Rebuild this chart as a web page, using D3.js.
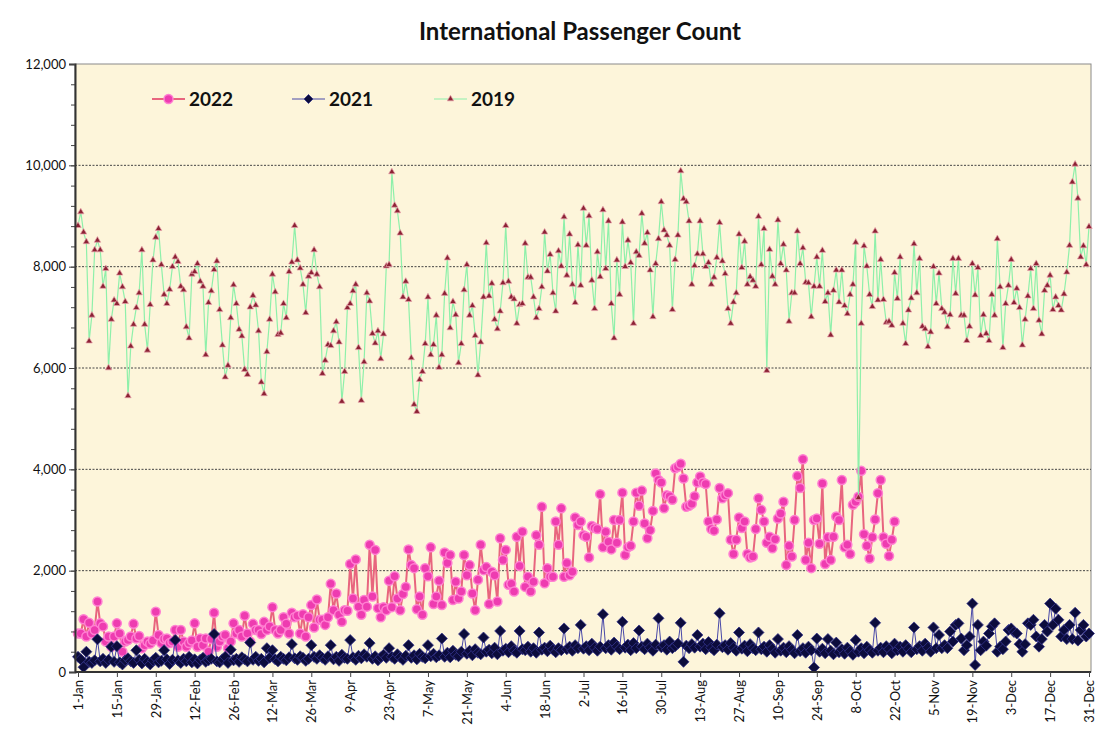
<!DOCTYPE html>
<html>
<head>
<meta charset="utf-8">
<script src="https://cdn.jsdelivr.net/npm/d3@7"></script>
<style>
  body { margin: 0; background: #fff; }
  text { font-family: Lato, "Liberation Sans", sans-serif; }
</style>
</head>
<body>
<div id="chart"></div>
<script>
// day index 0 = 1-Jan, ticks every 14 days
const tickDays = [0,14,28,42,56,70,84,98,112,126,140,154,168,182,196,210,224,238,252,266,280,294,308,322,336,350,364];
const tickLabels = ["1-Jan","15-Jan","29-Jan","12-Feb","26-Feb","12-Mar","26-Mar","9-Apr","23-Apr","7-May","21-May","4-Jun","18-Jun","2-Jul","16-Jul","30-Jul","13-Aug","27-Aug","10-Sep","24-Sep","8-Oct","22-Oct","5-Nov","19-Nov","3-Dec","17-Dec","31-Dec"];
const yTicks = [0,2000,4000,6000,8000,10000,12000];

const v2019 = [
  8810,9080,8680,8490,6530,7040,8330,8520,8330,7610,
  7960,6000,6960,7340,7270,7870,7600,7310,5450,6430,
  6860,7190,7480,8330,6860,6350,7250,8130,8580,8750,
  8040,7450,7270,7550,8000,8190,8100,7610,7540,6810,
  6590,7850,7900,8060,7710,7610,6260,7290,7520,7940,
  8110,7150,6450,5820,6050,6990,7640,7270,6760,6630,
  5970,5870,7200,7430,7240,6730,5720,5490,6320,6960,
  7850,7500,6660,6690,7270,6990,7900,8090,8810,8130,
  7970,7650,7090,7810,7880,8330,7850,7600,5890,6150,
  6460,6440,6730,6910,6510,5340,5930,7190,7270,7520,
  7650,6400,5360,6120,7480,7320,6680,6490,6730,6180,
  6670,8010,8040,9870,9210,9100,8660,7400,7710,7350,
  6200,5280,5140,5770,5930,6480,7400,6260,6460,7040,
  6010,6260,7470,8170,6790,7310,7050,6100,6480,7540,
  8040,7040,7230,6640,5860,6510,7400,8470,7420,7670,
  6960,6770,7120,7680,8810,7710,7400,7360,6880,7250,
  7270,8460,7790,7790,7400,6990,7170,7600,8680,7910,
  8240,7480,7120,8310,8010,8980,7830,8640,7650,7290,
  8430,7630,9150,8420,9000,7730,7170,8290,7800,9120,
  7960,8900,7270,6590,8130,7450,8880,8000,8520,8080,
  6880,8290,8220,9050,8460,8670,7930,7010,8060,8550,
  9280,8720,8620,8420,7150,8140,8620,9890,9340,9280,
  8900,7650,8020,8250,8900,8250,8000,8080,7650,7790,
  8180,8870,8110,7860,7170,6880,7300,7480,8640,7980,
  8500,7650,7800,7730,7610,8990,8040,8750,5950,8340,
  7810,7650,8920,8060,8440,7930,6920,7480,7480,8700,
  8060,8370,7690,7680,7010,7610,8190,7610,8320,7310,
  7480,6650,7530,7930,7300,7930,7230,7070,7450,7650,
  8480,3440,6880,8410,8010,7450,7210,8700,7340,8140,
  7350,6900,6920,6840,7880,7370,8190,6880,6480,7140,
  7380,8450,7480,8160,6820,6770,6420,6710,8000,7270,
  7870,7170,7100,6810,7050,8160,7470,8160,7040,7040,
  6540,6820,8060,7440,7980,6640,7050,6680,6540,7450,
  7040,8550,7600,6400,7270,7630,8140,7290,7570,7190,
  6450,6960,7420,7960,7170,8060,6940,6670,7530,7630,
  7830,7150,7400,7230,7140,7460,7890,8420,9670,10020,
  9350,8190,8410,8040,8790
];

const v2022 = [
  760,760,1040,700,970,760,830,1390,960,900,
  600,700,500,700,960,760,400,600,630,700,
  950,660,710,470,530,600,560,620,1190,730,
  570,650,660,570,600,830,500,830,600,500,
  570,620,960,500,660,530,660,400,650,1170,
  500,600,700,730,470,600,960,760,830,700,
  1110,760,600,950,830,830,750,990,830,900,
  1280,830,760,830,1080,950,760,1170,1080,1110,
  760,1140,700,1080,1320,880,1430,1030,1030,930,
  1080,1740,1220,1550,1130,990,1220,1210,2130,1450,
  2220,1290,1130,1420,1290,2510,1490,2410,1260,1080,
  1280,1220,1800,1280,1890,1450,1220,1540,1680,2420,
  2110,2050,1240,1490,1130,2050,1890,2460,1340,1490,
  1800,1320,2360,2150,2310,1420,1780,1450,1590,2310,
  1910,2110,1550,1220,1820,2510,2010,2070,1340,1980,
  1910,1390,2640,2210,2410,1720,1740,1590,2670,2090,
  2770,1680,1880,1590,1780,2700,2510,3260,1750,2050,
  1880,1880,2970,2510,3230,1880,2150,1910,1980,3050,
  2900,2970,2700,2670,2260,2880,2840,2820,3510,2460,
  2770,2570,2420,3000,2550,3000,3540,2310,2460,2490,
  2970,3540,3280,3580,2930,2640,2800,3180,3920,3790,
  3740,3230,3490,3470,3400,4020,4050,4110,3820,3260,
  3280,3320,3470,3740,3860,3740,3710,2970,2820,2790,
  3010,3630,3430,3490,3530,2610,2330,2610,3050,2840,
  2970,2330,2260,2280,2820,3430,3200,2970,2550,2670,
  2440,2620,3030,3130,3360,2110,2490,2280,3000,3870,
  3630,4200,2210,2550,2050,3000,3030,2530,3720,2130,
  2660,2210,2670,3070,3000,3790,2460,2510,2330,3300,
  3360,3460,3970,2720,2490,2240,2660,3010,3530,3790,
  2660,2530,2290,2610,2970
];

const v2021 = [
  300,250,95,400,200,180,230,
  645,210,260,180,240,500,200,
  510,190,150,230,270,210,180,
  430,240,170,260,200,150,230,
  280,190,220,430,250,160,240,
  630,230,180,260,210,300,190,
  250,170,240,280,200,230,260,
  750,210,190,250,300,180,440,
  230,260,200,290,250,210,580,
  240,300,220,260,190,470,280,
  430,250,210,300,260,230,290,
  550,270,240,310,280,220,260,
  530,300,260,330,280,240,310,
  530,250,300,220,340,280,260,
  630,290,240,320,270,350,300,
  570,260,310,230,290,340,280,
  470,300,260,350,290,240,320,
  530,280,330,250,360,300,270,
  530,310,360,290,330,660,300,
  380,290,420,340,310,400,750,
  360,420,330,450,380,350,680,
  400,440,370,480,350,810,420,
  460,390,510,420,380,810,450,
  430,500,400,470,380,780,440,
  480,410,520,440,390,470,430,
  860,450,500,420,530,470,930,
  460,510,430,560,480,420,500,
  1140,470,530,440,580,500,450,
  990,480,540,430,570,470,820,
  500,450,560,480,420,540,1060,
  490,530,440,600,470,510,560,
  970,200,520,470,550,480,730,
  500,560,450,590,480,430,540,
  1160,490,530,440,570,480,420,
  780,460,520,410,550,470,430,
  780,450,500,400,530,460,380,
  650,420,480,390,510,440,370,
  730,410,470,380,500,430,90,
  660,400,460,370,650,420,350,
  580,390,450,360,480,410,340,
  630,400,470,370,500,430,380,
  970,420,480,390,510,450,370,
  560,430,500,400,530,460,390,
  880,450,510,420,560,480,400,
  880,470,730,470,530,470,800,600,930,960,
  660,430,530,700,1350,140,930,430,600,520,
  760,900,960,400,500,450,600,830,860,790,
  760,550,400,550,960,930,1030,700,500,650,
  930,800,1350,930,1250,1030,700,830,650,930,
  650,1170,620,830,930,700,760
];

const W = 1099, H = 738;
const plot = { left: 75, right: 1091, top: 64, bottom: 672 };

const svg = d3.select('#chart').append('svg')
  .attr('width', W)
  .attr('height', H);

svg.append('rect')
  .attr('width', W).attr('height', H)
  .attr('fill', '#fff');

const x = d3.scalePoint()
  .domain(d3.range(365))
  .range([78, 1089]);

const y = d3.scaleLinear()
  .domain([0, 12000])
  .range([plot.bottom, plot.top]);

// plot area
svg.append('rect')
  .attr('x', plot.left)
  .attr('y', plot.top)
  .attr('width', plot.right - plot.left)
  .attr('height', plot.bottom - plot.top)
  .attr('fill', '#FDF5DA')
  .attr('stroke', '#8a8a8a')
  .attr('stroke-width', 1);

// dotted gridlines
svg.append('g')
  .selectAll('line')
  .data(yTicks.filter(d => d > 0 && d < 12000))
  .join('line')
  .attr('x1', plot.left).attr('x2', plot.right)
  .attr('y1', d => y(d)).attr('y2', d => y(d))
  .attr('stroke', '#444')
  .attr('stroke-width', 1)
  .attr('stroke-dasharray', '2,1.5');

// title
svg.append('text')
  .attr('x', 580).attr('y', 40)
  .attr('text-anchor', 'middle')
  .style('font-size', '24px')
  .style('font-weight', 'bold')
  .attr('fill', '#111')
  .text('International Passenger Count');

function drawSeries(values, lineColor, lineWidth) {
  const line = d3.line()
    .x((d, i) => x(i))
    .y(d => y(d));
  svg.append('path')
    .datum(values)
    .attr('fill', 'none')
    .attr('stroke', lineColor)
    .attr('stroke-width', lineWidth)
    .attr('stroke-linejoin', 'round')
    .attr('d', line);
}

const diamond = 'M0,-5.5L5.5,0L0,5.5L-5.5,0Z';
const triangle = d3.symbol(d3.symbolTriangle, 18)();

// 2022
drawSeries(v2022, '#E8657E', 2);
svg.append('g')
  .selectAll('circle')
  .data(v2022)
  .join('circle')
  .attr('cx', (d, i) => x(i))
  .attr('cy', d => y(d))
  .attr('r', 4.5)
  .attr('fill', '#EE3CB0')
  .attr('stroke', '#FF80D2')
  .attr('stroke-width', 1.5);

// 2021
drawSeries(v2021, '#4848A8', 1);
svg.append('g')
  .selectAll('path')
  .data(v2021)
  .join('path')
  .attr('d', diamond)
  .attr('transform', (d, i) => `translate(${x(i)},${y(d)})`)
  .attr('fill', '#0C0C3C')
  .attr('stroke', '#34348C')
  .attr('stroke-width', 0.8);

// 2019
drawSeries(v2019, '#8EF0AA', 1.2);
svg.append('g')
  .selectAll('path')
  .data(v2019)
  .join('path')
  .attr('d', triangle)
  .attr('transform', (d, i) => `translate(${x(i)},${y(d)})`)
  .attr('fill', '#8C2234')
  .attr('stroke', '#E8A2AC')
  .attr('stroke-width', 0.7);

// y axis, minor ticks every 400
svg.append('g')
  .attr('transform', `translate(${plot.left},0)`)
  .call(d3.axisLeft(y).tickValues(d3.range(0, 12001, 400)).tickSize(4).tickFormat(''))
  .call(g => g.select('.domain').remove())
  .selectAll('line').attr('stroke', '#444');

const yAxis = svg.append('g')
  .attr('transform', `translate(${plot.left},0)`)
  .call(d3.axisLeft(y).tickValues(yTicks).tickSize(6).tickFormat(d3.format(',')));
yAxis.select('.domain').attr('stroke', '#333').attr('stroke-width', 2);
yAxis.selectAll('line').attr('stroke', '#444');
yAxis.selectAll('text')
  .attr('x', -9)
  .style('font-size', '13px')
  .attr('fill', '#111');

// x axis
const xAxis = svg.append('g')
  .attr('transform', `translate(0,${plot.bottom})`)
  .call(d3.axisBottom(x).tickValues(tickDays).tickSize(5).tickFormat((d, i) => tickLabels[i]));
xAxis.select('.domain')
  .attr('d', `M${plot.left},0H${plot.right}`)
  .attr('stroke', '#333').attr('stroke-width', 2);
xAxis.selectAll('line').attr('stroke', '#444');
xAxis.selectAll('text')
  .attr('transform', 'rotate(-90)')
  .attr('text-anchor', 'end')
  .attr('x', -8)
  .attr('y', 0)
  .attr('dy', '0.35em')
  .style('font-size', '13px')
  .attr('fill', '#111');

// legend
const legend = svg.append('g').attr('transform', 'translate(0,99)');
const legendItems = [
  { label: '2022', x: 152, color: '#E8657E', w: 2 },
  { label: '2021', x: 292, color: '#4848A8', w: 1 },
  { label: '2019', x: 434, color: '#8EF0AA', w: 1.2 }
];
legendItems.forEach((it, i) => {
  legend.append('line')
    .attr('x1', it.x).attr('x2', it.x + 33)
    .attr('stroke', it.color).attr('stroke-width', it.w);
  const cx = it.x + 16.5;
  if (i === 0) {
    legend.append('circle').attr('cx', cx).attr('r', 4.5)
      .attr('fill', '#EE3CB0').attr('stroke', '#FF80D2').attr('stroke-width', 1.5);
  } else if (i === 1) {
    legend.append('path').attr('d', 'M0,-4.5L4.5,0L0,4.5L-4.5,0Z').attr('transform', `translate(${cx},0)`)
      .attr('fill', '#0C0C3C').attr('stroke', '#34348C').attr('stroke-width', 0.8);
  } else {
    legend.append('path').attr('d', triangle).attr('transform', `translate(${cx},0)`)
      .attr('fill', '#8C2234').attr('stroke', '#E8A2AC').attr('stroke-width', 0.7);
  }
  legend.append('text')
    .attr('x', it.x + 37).attr('y', 0)
    .attr('dy', '0.35em')
    .style('font-size', '19px')
    .style('font-weight', 'bold')
    .attr('fill', '#111')
    .text(it.label);
});
</script>
</body>
</html>
